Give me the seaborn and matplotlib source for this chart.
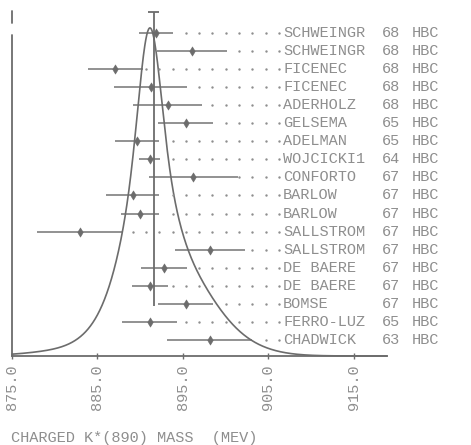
import numpy as np
import pandas as pd
import matplotlib
matplotlib.use("Agg")
import matplotlib.pyplot as plt
import seaborn as sns

# Measurements of the charged K*(890) mass (MeV), top row first
authors = ["SCHWEINGR", "SCHWEINGR", "FICENEC", "FICENEC", "ADERHOLZ", "GELSEMA",
           "ADELMAN", "WOJCICKI1", "CONFORTO", "BARLOW", "BARLOW", "SALLSTROM",
           "SALLSTROM", "DE BAERE", "DE BAERE", "BOMSE", "FERRO-LUZ", "CHADWICK"]
years = ["68", "68", "68", "68", "68", "65", "65", "64", "67", "67", "67", "67",
         "67", "67", "67", "67", "65", "63"]
techniques = ["HBC"] * 18
mass = [891.8, 896.1, 887.1, 891.2, 893.2, 895.3, 889.6, 891.1, 896.2,
        889.1, 890.0, 882.9, 898.2, 892.8, 891.1, 895.3, 891.1, 898.1]
error = [2.0, 4.1, 3.2, 4.3, 4.0, 3.2, 2.6, 1.2, 5.2,
         3.1, 2.2, 5.0, 4.1, 2.7, 2.1, 3.2, 3.2, 5.0]
tick_values = [875.0, 885.0, 895.0, 905.0, 915.0]
axis_title = "CHARGED K*(890) MASS  (MEV)"

n = len(mass)
df = pd.DataFrame({"author": authors, "year": years, "tech": techniques,
                   "mass": mass, "err": error})
df["row"] = np.arange(n, 0, -1)          # top entry at n, bottom at 1
df["lo"] = df["mass"] - df["err"]
df["hi"] = df["mass"] + df["err"]

# weighted average and its error
w = 1.0 / df["err"] ** 2
mean = float((w * df["mass"]).sum() / w.sum())
mean_err = float(1.0 / np.sqrt(w.sum()))

sns.set_theme(style="white")
plt.rcParams["font.family"] = ["Liberation Mono", "DejaVu Sans Mono"]

TEXT = "#8e8e8e"
INK = "#6c6c6c"
FS = 11

fig = plt.figure(figsize=(4.71, 4.45), dpi=100)
ax = fig.add_axes([12 / 471, 89 / 445, 375 / 471, 346 / 445])

x_lo, x_hi = 875.0, 918.86
y_base, y_top = 0.114, 19.27
ax.set_xlim(x_lo, x_hi)
ax.set_ylim(y_base, y_top)

# ideogram: each measurement a gaussian of area 1/err
grid = np.linspace(x_lo, x_hi, 800)
ideo = np.zeros_like(grid)
for m, s in zip(df["mass"], df["err"]):
    ideo += np.exp(-0.5 * ((grid - m) / s) ** 2) / s ** 2
peak_y = n + 0.28
curve = pd.DataFrame({"x": grid, "y": y_base + (peak_y - y_base) * ideo / ideo.max()})
sns.lineplot(data=curve, x="x", y="y", ax=ax, color=INK, lw=1.2, sort=False,
             clip_on=False)

# error bars and central values
ax.hlines(df["row"], df["lo"], df["hi"], color=INK, lw=1.3, alpha=0.8)
sns.scatterplot(data=df, x="mass", y="row", ax=ax, marker="d", s=22,
                color=INK, edgecolor=INK, linewidth=0.4, zorder=4)

# weighted-mean line with its error cap
mean_top = n + 1.16
ax.vlines(mean, 2.88, mean_top, color=INK, lw=1.3)
ax.hlines(mean_top, mean - mean_err, mean + mean_err, color=INK, lw=1.3)

# dotted leaders from each bar to its label
lead_start, lead_step = 906.23, 1.556
lead = lead_start - lead_step * np.arange(0, 25)
for r, hi in zip(df["row"], df["hi"]):
    xs = lead[lead > hi + 0.15]
    ax.scatter(xs, np.full(len(xs), r), s=3, color=TEXT, marker="o",
               linewidths=0, zorder=3)

# labels: author, year, technique columns
for r, a, yr, t in zip(df["row"], df["author"], df["year"], df["tech"]):
    ax.text(906.7, r, a, color=TEXT, fontsize=FS, va="center", ha="left",
            clip_on=False)
    ax.text(918.3, r, yr, color=TEXT, fontsize=FS, va="center", ha="left",
            clip_on=False)
    ax.text(921.8, r, t, color=TEXT, fontsize=FS, va="center", ha="left",
            clip_on=False)

# axes lines
for side in ["top", "right", "left"]:
    ax.spines[side].set_visible(False)
ax.spines["bottom"].set_color(INK)
ax.spines["bottom"].set_linewidth(1.3)
ax.plot([x_lo, x_lo], [y_base, n - 0.11], color=INK, lw=1.3, clip_on=False)
ax.plot([x_lo, x_lo], [n + 0.55, n + 1.22], color=INK, lw=1.3, clip_on=False)

ax.set_xticks(tick_values)
ax.set_xticklabels([f"{v:.1f}" for v in tick_values], rotation=90,
                   color=TEXT, fontsize=FS, va="top", ha="center")
ax.tick_params(axis="x", direction="inout", length=4, width=1, color=INK, pad=4,
               bottom=True)
ax.set_yticks([])
ax.set_xlabel("")
ax.set_ylabel("")

fig.text(11 / 471, 1 - 438 / 445, axis_title, color=TEXT, fontsize=FS,
         va="center", ha="left")

fig.savefig("out.png", dpi=100, facecolor="white")
